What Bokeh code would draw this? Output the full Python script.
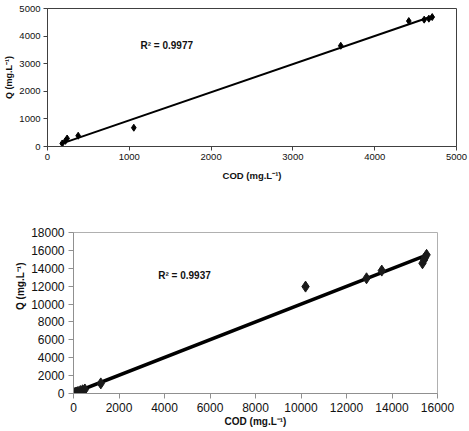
import numpy as np
from bokeh.plotting import figure
from bokeh.layouts import column
from bokeh.models import Range1d, FixedTicker, Label, Title
from bokeh.embed import file_html
from bokeh.resources import INLINE

# ---- data ----
cod1 = [180, 220, 240, 375, 1055, 3585, 4417, 4605, 4662, 4703]
q1 = [110, 205, 290, 390, 680, 3650, 4545, 4596, 4632, 4690]
r2_1 = "R² = 0.9977"

cod2 = [50, 100, 150, 200, 300, 400, 500, 1200, 10200, 12880, 13550, 15340, 15410, 15450, 15520]
q2 = [40, 90, 120, 180, 270, 360, 450, 1130, 11950, 12880, 13740, 14560, 14940, 15200, 15500]
r2_2 = "R² = 0.9937"

ticks1_x = [0, 1000, 2000, 3000, 4000, 5000]
ticks1_y = [0, 1000, 2000, 3000, 4000, 5000]
ticks2_x = [0, 2000, 4000, 6000, 8000, 10000, 12000, 14000, 16000]
ticks2_y = [0, 2000, 4000, 6000, 8000, 10000, 12000, 14000, 16000, 18000]

x_label = "COD (mg.L⁻¹)"
y_label = "Q (mg.L⁻¹)"

FONT = "Liberation Sans"


def style_axes(p, frame_col, axis_col, tick_size, tick_out, standoff):
    p.xgrid.visible = False
    p.ygrid.visible = False
    p.outline_line_color = frame_col
    p.outline_line_width = 1
    for ax in (p.xaxis[0], p.yaxis[0]):
        ax.axis_line_color = axis_col
        ax.major_tick_line_color = axis_col
        ax.minor_tick_line_color = None
        ax.major_tick_out = tick_out
        ax.major_tick_in = 0
        ax.major_label_text_font = FONT
        ax.major_label_text_font_size = tick_size
        ax.major_label_text_color = "#111111"
        ax.major_label_standoff = standoff
        ax.axis_label_text_font = FONT
        ax.axis_label_text_font_style = "bold"
        ax.axis_label_text_color = "#111111"


# ---- chart 1 ----
H1 = 190
p1 = figure(width=469, height=H1, output_backend="svg", toolbar_location=None,
            x_range=Range1d(0, 5000), y_range=Range1d(0, 5000),
            min_border_left=47, min_border_right=13, min_border_top=8,
            min_border_bottom=H1 - 146, frame_align=False)
style_axes(p1, "#404040", "#404040", "9.5px", 4, 3)
p1.xaxis.ticker = FixedTicker(ticks=ticks1_x)
p1.yaxis.ticker = FixedTicker(ticks=ticks1_y)
p1.xaxis.axis_label = x_label
p1.xaxis.axis_label_text_font_size = "9.5px"
p1.xaxis.axis_label_standoff = 7
p1.yaxis.axis_label = y_label
p1.yaxis.axis_label_text_font_size = "9px"
p1.yaxis.axis_label_standoff = 2

a1, b1 = np.polyfit(cod1, q1, 1)
fx1 = np.array([min(cod1), max(cod1)])
p1.line(fx1, a1 * fx1 + b1, line_color="black", line_width=2)
p1.scatter(cod1, q1, marker="diamond", size=7, color="black")
p1.add_layout(Label(x=1137, y=3662, text=r2_1, text_font=FONT, text_font_style="bold",
                    text_font_size="10px", text_baseline="middle", text_align="left",
                    text_color="#111111"))

# ---- chart 2 ----
H2 = 431 - H1
p2 = figure(width=469, height=H2, output_backend="svg", toolbar_location=None,
            x_range=Range1d(0, 16000), y_range=Range1d(0, 18000),
            min_border_left=73, min_border_right=32, min_border_top=232 - H1,
            min_border_bottom=431 - 393, frame_align=False)
style_axes(p2, "#b0b0b0", "#909090", "12px", 5, 4)
p2.xaxis.ticker = FixedTicker(ticks=ticks2_x)
p2.yaxis.ticker = FixedTicker(ticks=ticks2_y)
p2.xaxis.axis_label = x_label
p2.xaxis.axis_label_text_font_size = "10px"
p2.xaxis.axis_label_standoff = 1

p2.add_layout(Title(text=y_label, align="right", offset=30, standoff=6,
                    text_font=FONT, text_font_style="bold", text_font_size="10px",
                    text_color="#111111"), "left")

a2, b2 = np.polyfit(cod2, q2, 1)
fx2 = np.array([0, max(cod2)])
p2.line(fx2, a2 * fx2 + b2, line_color="black", line_width=3.5)
p2.scatter(cod2, q2, marker="diamond", size=11, color="#1a1a1a")
p2.add_layout(Label(x=3726, y=13180, text=r2_2, text_font=FONT, text_font_style="bold",
                    text_font_size="10px", text_baseline="middle", text_align="left",
                    text_color="#111111"))

layout = column(p1, p2, spacing=0)
open("out.html", "w").write(file_html(layout, INLINE))
